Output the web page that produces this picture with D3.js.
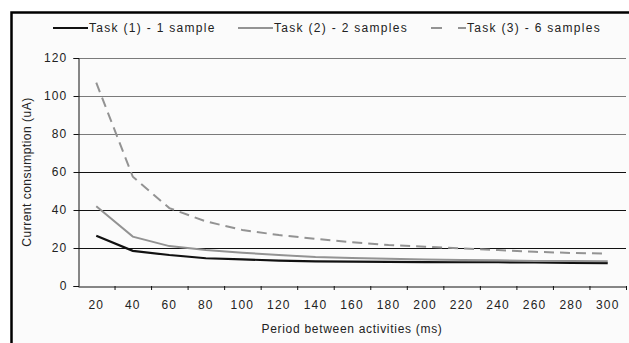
<!DOCTYPE html>
<html>
<head>
<meta charset="utf-8">
<script src="https://cdn.jsdelivr.net/npm/d3@7"></script>
<style>
  html, body { margin: 0; background: #fff; overflow: hidden; }
  svg { display: block; }
  svg text { font-family: "Liberation Sans", Arial, sans-serif; fill: #222; }
</style>
</head>
<body>
<svg id="chart" width="629" height="343"></svg>
<script>
// chart data
const periods = [20, 40, 60, 80, 100, 120, 140, 160, 180, 200, 220, 240, 260, 280, 300];
const task1 = [26.5, 18.5, 16.3, 14.6, 14, 13.4, 13, 12.8, 12.7, 12.6, 12.5, 12.5, 12.4, 12.1, 12];
const task2 = [42, 26, 21, 19, 17.5, 16.3, 15.2, 14.7, 14.4, 14, 13.7, 13.5, 13.2, 13.1, 13];
const task3 = [107, 57.5, 41, 34, 29.5, 26.8, 24.8, 23, 21.6, 20.7, 19.8, 18.9, 18, 17.4, 17];
const yTicks = [0, 20, 40, 60, 80, 100, 120];
const seriesNames = ["Task (1) - 1 sample", "Task (2) - 2 samples", "Task (3) - 6 samples"];

const svg = d3.select("#chart");
const plotLeft = 78, plotRight = 626, plotTop = 58, plotBottom = 286;

// frame background and its left / top edges
svg.append("rect")
  .attr("x", 11).attr("y", 12)
  .attr("width", 618).attr("height", 331)
  .attr("fill", "#fbfbfb");
svg.append("path")
  .attr("d", "M11.5,343V12.5H629")
  .attr("fill", "none")
  .attr("stroke", "#000").attr("stroke-width", 2.5);

const x = d3.scaleBand().domain(periods).range([plotLeft, plotRight]).padding(0);
const y = d3.scaleLinear().domain([0, 120]).range([plotBottom, plotTop]);

// gridlines
svg.append("g").selectAll("line")
  .data(yTicks.filter(d => d > 0))
  .enter().append("line")
  .attr("x1", plotLeft).attr("x2", plotRight)
  .attr("y1", d => y(d) + 0.5).attr("y2", d => y(d) + 0.5)
  .attr("stroke", d => d >= 80 ? "#7a7a7a" : "#111")
  .attr("stroke-width", 1.2);

// y axis
const yAxis = svg.append("g")
  .attr("transform", "translate(" + (plotLeft + 0.5) + ",0)")
  .call(d3.axisLeft(y).tickValues(yTicks).tickSize(5).tickPadding(6));
yAxis.selectAll("text").style("font-size", "12px").style("letter-spacing", "1.2px").attr("fill", "#333");
yAxis.selectAll("line, path").attr("stroke", "#111");

// x axis, ticks sit between categories
const xAxis = svg.append("g")
  .attr("transform", "translate(0," + (plotBottom + 0.5) + ")")
  .call(d3.axisBottom(x).tickSize(0).tickPadding(14));
xAxis.select("path").attr("stroke", "#111");
xAxis.selectAll("text").style("font-size", "12px").style("letter-spacing", "1.2px").attr("fill", "#333");
svg.append("g").selectAll("line")
  .data(periods)
  .enter().append("line")
  .attr("x1", d => x(d) + x.bandwidth() + 0.5).attr("x2", d => x(d) + x.bandwidth() + 0.5)
  .attr("y1", plotBottom).attr("y2", plotBottom + 4)
  .attr("stroke", "#111");

// axis titles
svg.append("text")
  .attr("transform", "translate(31,172) rotate(-90)")
  .attr("text-anchor", "middle")
  .style("font-size", "12px")
  .style("letter-spacing", "0.5px")
  .attr("fill", "#555")
  .text("Current consumption (uA)");

svg.append("text")
  .attr("x", 352).attr("y", 333)
  .attr("text-anchor", "middle")
  .style("font-size", "12px")
  .style("letter-spacing", "0.7px")
  .text("Period between activities (ms)");

// series lines
const line = d3.line()
  .x((d, i) => x(periods[i]) + x.bandwidth() / 2)
  .y(d => y(d));

const styles = [
  { stroke: "#111", width: 2.2, dash: null },
  { stroke: "#939393", width: 2, dash: null },
  { stroke: "#939393", width: 2, dash: "10,6" }
];

[task1, task2, task3].forEach((s, i) => {
  svg.append("path")
    .datum(s)
    .attr("d", line)
    .attr("fill", "none")
    .attr("stroke", styles[i].stroke)
    .attr("stroke-width", styles[i].width)
    .attr("stroke-dasharray", styles[i].dash);
});

// legend
const legendX = [53, 238, 431];
seriesNames.forEach((name, i) => {
  const g = svg.append("g").attr("transform", "translate(" + legendX[i] + ",28)");
  g.append("line")
    .attr("x1", 0).attr("x2", 35)
    .attr("y1", 0).attr("y2", 0)
    .attr("stroke", styles[i].stroke)
    .attr("stroke-width", styles[i].width)
    .attr("stroke-dasharray", styles[i].dash ? "11,16" : null);
  g.append("text")
    .attr("x", 36).attr("y", 4)
    .style("font-size", "12px")
    .style("letter-spacing", "1.3px")
    .text(name);
});
</script>
</body>
</html>
